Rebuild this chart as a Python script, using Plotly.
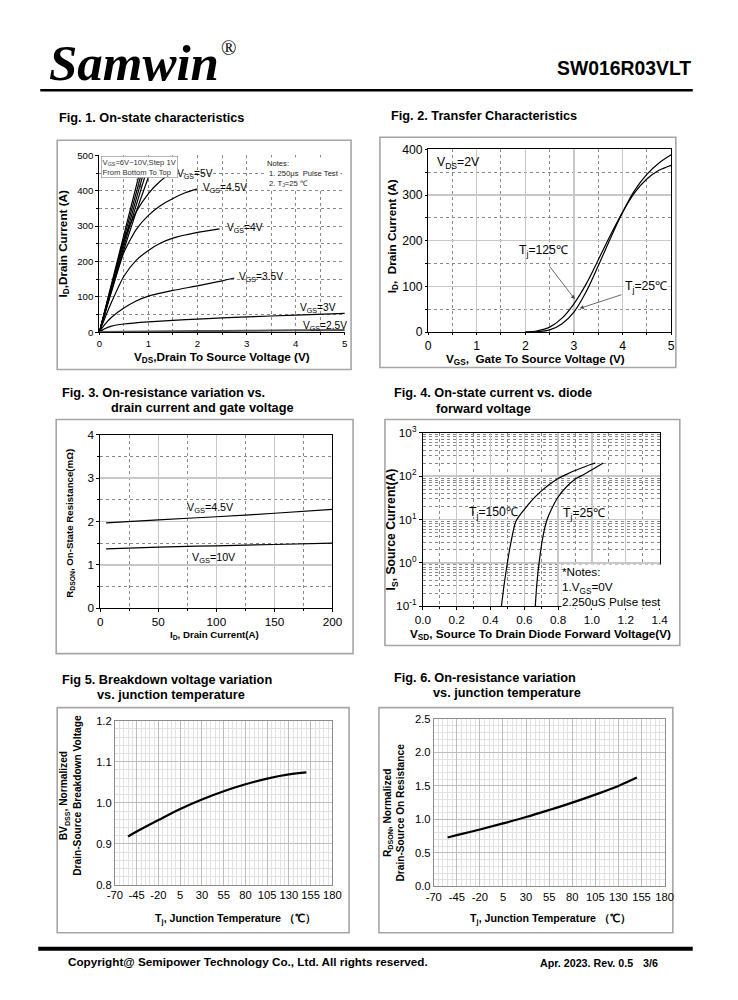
import plotly.graph_objects as go

# The photographed picture shows the 738x1000 page with an extra 8px white border
# scaled back into 738x1000; positions below are given in reference-picture pixels
# and mapped so they land where they are in the reference.
PAGE_W, PAGE_H = 738, 1000
OFF = 8
W, H = PAGE_W - 2 * OFF, PAGE_H - 2 * OFF
SX = (PAGE_W + 2 * OFF) / PAGE_W
SY = (PAGE_H + 2 * OFF) / PAGE_H
FS = (SX + SY) / 2
FONT = "Liberation Sans, Arial, sans-serif"
SERIF = "Liberation Serif, Times New Roman, serif"

# ---------------- data ----------------
# Fig 1: on-state characteristics, VDS [V] -> ID [A]
f1_labels = ["10V", "9V", "8V", "7V", "6V", "5V", "4.5V", "4V", "3.5V", "3V", "2.5V"]
f1_vds = [
    [0, 0.2, 0.4, 0.6, 0.82],
    [0, 0.2, 0.4, 0.6, 0.86],
    [0, 0.2, 0.4, 0.6, 0.90],
    [0, 0.2, 0.4, 0.6, 0.95],
    [0, 0.2, 0.4, 0.6, 0.8, 1.03],
    [0, 0.1, 0.25, 0.5, 0.75, 1.0, 1.25, 1.45],
    [0, 0.1, 0.25, 0.5, 0.75, 1.0, 1.25, 1.5, 1.75, 2.0],
    [0, 0.1, 0.25, 0.5, 0.75, 1.0, 1.25, 1.5, 2.0, 2.45],
    [0, 0.1, 0.25, 0.5, 0.75, 1.0, 1.5, 2.0, 2.5, 2.75],
    [0, 0.1, 0.25, 0.5, 1.0, 1.5, 2.0, 3.0, 4.0, 5.0],
    [0, 1.0, 2.0, 3.0, 4.0, 5.0],
]
f1_id = [
    [0, 110, 220, 330, 450],
    [0, 106, 212, 316, 450],
    [0, 102, 203, 302, 450],
    [0, 98, 195, 290, 450],
    [0, 95, 188, 276, 360, 450],
    [0, 50, 130, 260, 340, 392, 428, 450],
    [0, 45, 115, 225, 290, 330, 358, 378, 394, 405],
    [0, 35, 85, 158, 203, 231, 252, 266, 282, 292],
    [0, 20, 42, 68, 88, 102, 118, 131, 145, 153],
    [0, 9, 17, 23, 29, 33, 37, 43, 48, 53],
    [0, 2, 3, 4, 5, 6],
]

# Fig 2: transfer characteristics, VGS [V] -> ID [A]
f2_vgs = [2.0, 2.25, 2.5, 2.75, 3.0, 3.25, 3.5, 3.75, 4.0, 4.25, 4.5, 4.75, 5.0]
f2_id_125 = [0, 3, 11, 30, 62, 105, 158, 212, 262, 305, 335, 354, 365]
f2_id_25 = [0, 1, 5, 18, 44, 88, 145, 205, 262, 310, 345, 370, 388]

# Fig 3: RDS(on) [mOhm] vs ID [A]
f3_id = [5, 50, 100, 150, 200]
f3_r_45v = [1.97, 2.04, 2.11, 2.19, 2.28]
f3_r_10v = [1.37, 1.41, 1.44, 1.47, 1.50]

# Fig 4: body diode, VSD [V] -> IS [A]
f4_vsd_150 = [0.465, 0.48, 0.50, 0.52, 0.55, 0.60, 0.65, 0.70, 0.75, 0.80, 0.85, 0.90, 0.95, 1.0, 1.02]
f4_is_150 = [0.1, 0.3, 1.0, 2.8, 9, 17, 29, 45, 65, 88, 110, 135, 160, 190, 200]
f4_vsd_25 = [0.665, 0.675, 0.69, 0.71, 0.735, 0.76, 0.80, 0.85, 0.90, 0.95, 1.0, 1.067]
f4_is_25 = [0.1, 0.35, 1.2, 4, 10, 17, 33, 57, 85, 108, 140, 200]

# Fig 5: normalized BVDSS vs Tj
f5_tj = [-55, -45, -20, 5, 30, 55, 80, 105, 130, 150]
f5_bv = [0.918, 0.930, 0.958, 0.985, 1.008, 1.028, 1.045, 1.059, 1.069, 1.074]

# Fig 6: normalized RDS(on) vs Tj
f6_tj = [-55, -45, -20, 5, 30, 55, 80, 105, 130, 150]
f6_r = [0.73, 0.765, 0.85, 0.94, 1.035, 1.14, 1.25, 1.37, 1.5, 1.625]

# tick labels
f4_tickvals = [0.1, 1, 10, 100, 1000]
f4_ticktext = ["10<sup>-1</sup>", "10<sup>0</sup>", "10<sup>1</sup>", "10<sup>2</sup>", "10<sup>3</sup>"]
temp_ticks = [-70, -45, -20, 5, 30, 55, 80, 105, 130, 155, 180]
temp_ticktext = ["-70", "-45", "-20", "5", "30", "55", "80", "105", "130", "155", "180"]


def px(x):
    return (x * SX - 2 * OFF) / W


def py(y):
    return 1 - (y * SY - 2 * OFF) / H


def fs(s):
    return round(s * FS, 2)


fig = go.Figure()

# ---- traces ----
for i, lab in enumerate(f1_labels):
    col = "#555" if lab == "2.5V" else "black"
    wid = 2.0 if lab == "2.5V" else 1.2
    fig.add_trace(go.Scatter(x=f1_vds[i], y=f1_id[i], xaxis="x", yaxis="y", mode="lines",
                             line=dict(color=col, width=wid, shape="spline", smoothing=0.6),
                             name="VGS=" + lab, showlegend=False, hoverinfo="skip"))

for yy in (f2_id_125, f2_id_25):
    fig.add_trace(go.Scatter(x=f2_vgs, y=yy, xaxis="x2", yaxis="y2", mode="lines",
                             line=dict(color="black", width=1.2, shape="spline"), showlegend=False))

for yy in (f3_r_45v, f3_r_10v):
    fig.add_trace(go.Scatter(x=f3_id, y=yy, xaxis="x3", yaxis="y3", mode="lines",
                             line=dict(color="black", width=1.2, shape="spline"), showlegend=False))

fig.add_trace(go.Scatter(x=f4_vsd_150, y=f4_is_150, xaxis="x4", yaxis="y4", mode="lines",
                         line=dict(color="black", width=1.2, shape="spline", smoothing=0.7), showlegend=False))
fig.add_trace(go.Scatter(x=f4_vsd_25, y=f4_is_25, xaxis="x4", yaxis="y4", mode="lines",
                         line=dict(color="black", width=1.2, shape="spline", smoothing=0.7), showlegend=False))

fig.add_trace(go.Scatter(x=f5_tj, y=f5_bv, xaxis="x5", yaxis="y5", mode="lines",
                         line=dict(color="black", width=2.2, shape="spline"), showlegend=False))
fig.add_trace(go.Scatter(x=f6_tj, y=f6_r, xaxis="x6", yaxis="y6", mode="lines",
                         line=dict(color="black", width=2.2, shape="spline"), showlegend=False))


# ---- axes ----
def dotted_axis(domain, anchor, rng, dtick, minor_dtick, fsize, mirror=False, linecol="black",
                solid_major=False, ticklen=4, **kw):
    d = dict(domain=domain, anchor=anchor, range=rng, dtick=dtick, tick0=0,
             showline=True, linecolor=linecol, linewidth=1, mirror=mirror,
             ticks="outside", ticklen=ticklen, tickcolor="black",
             showgrid=True, gridcolor="#c8c8c8" if solid_major else "#8a8a8a",
             griddash="solid" if solid_major else "dot",
             gridwidth=1.4 if solid_major else 1,
             minor=dict(dtick=minor_dtick, showgrid=True, gridcolor="#8a8a8a", griddash="dot",
                        gridwidth=1, ticks="outside", ticklen=2, tickcolor="black"),
             tickfont=dict(family=FONT, size=fs(fsize), color="black"),
             zeroline=False, fixedrange=True)
    d.update(kw)
    return d


layout = dict(
    width=W, height=H, margin=dict(l=0, r=0, t=0, b=0), autosize=False,
    paper_bgcolor="white", plot_bgcolor="white", showlegend=False,
    font=dict(family=FONT, color="black"),
)

layout["xaxis"] = dotted_axis([px(99.3), px(345.7)], "y", [0, 5], 1, 0.5, 9.5, ticklen=2)
layout["yaxis"] = dotted_axis([py(331.7), py(155)], "x", [0, 500], 100, 50, 9.5, ticklen=3)

layout["xaxis2"] = dotted_axis([px(429.3), px(673.3)], "y2", [0, 5], 1, 0.5, 12, mirror=True,
                               solid_major=True, ticklen=2)
layout["yaxis2"] = dotted_axis([py(331.7), py(149)], "x2", [0, 400], 100, 50, 12, mirror=True,
                               solid_major=True, ticklen=2)

layout["xaxis3"] = dotted_axis([px(100.3), px(333.3)], "y3", [0, 200], 50, 25, 11.5, mirror=True,
                               solid_major=True, linecol="black", ticklen=3)
layout["yaxis3"] = dotted_axis([py(607.7), py(434.3)], "x3", [0, 4], 1, 0.5, 11.5, mirror=True,
                               solid_major=True, linecol="black", ticklen=3)

layout["xaxis4"] = dotted_axis([px(424), px(661.7)], "y4", [0, 1.4], 0.2, 0.1, 11.5, mirror=True,
                               solid_major=True, tickformat=".1f", ticklen=3)
layout["yaxis4"] = dict(domain=[py(605.7), py(432.3)], anchor="x4", type="log", range=[-1, 3],
                        tickvals=f4_tickvals, ticktext=f4_ticktext,
                        showline=True, linecolor="black", linewidth=1, mirror=True,
                        ticks="outside", ticklen=3, tickcolor="black",
                        showgrid=True, gridcolor="#c8c8c8", gridwidth=1.4,
                        minor=dict(tickvals=[k * 10 ** e for e in range(-1, 3) for k in range(2, 10)],
                                   showgrid=True, gridcolor="#8a8a8a", griddash="dot", gridwidth=1),
                        tickfont=dict(family=FONT, size=fs(11.5), color="black"),
                        zeroline=False, fixedrange=True)


def excel_axis(domain, anchor, rng, dtick, minor_dtick, tick0, tickvals=None, ticktext=None, fmt=None):
    d = dict(domain=domain, anchor=anchor, range=rng, dtick=dtick, tick0=tick0,
             showline=True, linecolor="#8c8c8c", linewidth=1, mirror=True,
             ticks="", showgrid=True, gridcolor="#bdbdbd", gridwidth=1,
             minor=dict(dtick=minor_dtick, tick0=tick0, showgrid=True, gridcolor="#e2e2e2", gridwidth=1),
             tickfont=dict(family=FONT, size=fs(11), color="black"),
             zeroline=False, fixedrange=True)
    if tickvals is not None:
        d["tickmode"] = "array"
        d["tickvals"] = tickvals
        d["ticktext"] = ticktext
    if fmt:
        d["tickformat"] = fmt
    return d


layout["xaxis5"] = excel_axis([px(115), px(333.3)], "y5", [-70, 180], 25, 5, -70, temp_ticks, temp_ticktext)
layout["yaxis5"] = excel_axis([py(884.3), py(720)], "x5", [0.8, 1.2], 0.1, 0.02, 0.8, fmt=".1f")
layout["xaxis6"] = excel_axis([px(435), px(666.7)], "y6", [-70, 180], 25, 5, -70, temp_ticks, temp_ticktext)
layout["yaxis6"] = excel_axis([py(885.7), py(718.3)], "x6", [0, 2.5], 0.5, 0.1, 0, fmt=".1f")

fig.update_layout(**layout)

# ---- shapes ----
shapes = []


def frame(x0, y0, x1, y1):
    shapes.append(dict(type="rect", xref="paper", yref="paper", x0=px(x0), x1=px(x1), y0=py(y1), y1=py(y0),
                       line=dict(color="#a6a6a6", width=1.6), layer="below"))


frame(57, 140, 352, 369)
frame(381, 137, 678, 367)
frame(56, 419, 354, 653)
frame(386, 419, 682, 645)
frame(57, 707, 350, 932)
frame(380, 707, 675, 932)

shapes.append(dict(type="line", xref="paper", yref="paper", x0=px(40), x1=px(695), y0=py(90), y1=py(90),
                   line=dict(color="black", width=2.5)))
shapes.append(dict(type="line", xref="paper", yref="paper", x0=px(38), x1=px(695), y0=py(948), y1=py(948),
                   line=dict(color="black", width=4)))
fig.update_layout(shapes=shapes)

# ---- annotations ----
ann = []


def ptext(text, x, y, size, xanchor="left", yanchor="middle", family=FONT, angle=0, align="left", **kw):
    a = dict(text=text, x=px(x), y=py(y), xref="paper", yref="paper", showarrow=False,
             xanchor=xanchor, yanchor=yanchor, textangle=angle, align=align,
             font=dict(family=family, size=fs(size), color="black"))
    a.update(kw)
    ann.append(a)


def dtext(text, x, y, xr, yr, size, xanchor="left", yanchor="middle", **kw):
    a = dict(text=text, x=x, y=y, xref=xr, yref=yr, showarrow=False,
             xanchor=xanchor, yanchor=yanchor, font=dict(family=FONT, size=fs(size), color="black"))
    a.update(kw)
    ann.append(a)


# header/footer
ptext("<b><i>Samwin</i></b>", 47, 63, 50, family=SERIF)
ptext("®", 219, 48, 20, family=SERIF)
ptext("<b>SW016R03VLT</b>", 695, 68, 19, xanchor="right")
ptext("<b>Copyright@ Semipower Technology Co., Ltd. All rights reserved.</b>", 66, 961, 11.5)
ptext("<b>Apr. 2023. Rev. 0.5</b>", 540, 962, 10.5)
ptext("<b>3/6</b>", 643, 962, 10.5)

# figure titles
ptext("<b>Fig. 1. On-state characteristics</b>", 57, 117, 12.5)
ptext("<b>Fig. 2. Transfer Characteristics</b>", 390, 115, 12.5)
ptext("<b>Fig. 3. On-resistance variation vs.</b>", 60, 392, 12.5)
ptext("<b>drain current and gate voltage</b>", 109, 407, 12.5)
ptext("<b>Fig. 4. On-state current vs. diode</b>", 393, 392, 12.5)
ptext("<b>forward voltage</b>", 435, 408, 12.5)
ptext("<b>Fig 5. Breakdown voltage variation</b>", 60, 679, 12.5)
ptext("<b>vs. junction temperature</b>", 95, 694, 12.5)
ptext("<b>Fig. 6. On-resistance variation</b>", 393, 677, 12.5)
ptext("<b>vs. junction temperature</b>", 432, 692, 12.5)

# axis titles
ptext("<b>V<sub>DS</sub>,Drain To Source Voltage (V)</b>", 222, 357, 11.5, xanchor="center")
ptext("<b>I<sub>D</sub>,Drain Current (A)</b>", 63, 243, 11.5, xanchor="center", angle=-90)
ptext("<b>V<sub>GS</sub>,  Gate To Source Voltage (V)</b>", 537, 359, 11.5, xanchor="center")
ptext("<b>I<sub>D</sub>,  Drain Current (A)</b>", 393, 236, 11.5, xanchor="center", angle=-90)
ptext("<b>I<sub>D</sub>, Drain Current(A)</b>", 215, 634, 9.5, xanchor="center")
ptext("<b>R<sub>DSON</sub>, On-State Resistance(mΩ)</b>", 69, 523, 9.5, xanchor="center", angle=-90)
ptext("<b>V<sub>SD</sub>, Source To Drain Diode Forward Voltage(V)</b>", 542, 634, 11.5, xanchor="center")
ptext("<b>I<sub>S</sub>, Source Current(A)</b>", 393, 529, 12, xanchor="center", angle=-90)
ptext("<b>T<sub>j</sub>, Junction Temperature （℃）</b>", 236, 918, 10.5, xanchor="center")
ptext("<b>BV<sub>DSS</sub>, Normalized<br>Drain-Source Breakdown Voltage</b>", 70, 795, 10,
      xanchor="center", angle=-90, align="center")
ptext("<b>T<sub>j</sub>, Junction Temperature （℃）</b>", 552, 918, 10.5, xanchor="center")
ptext("<b>R<sub>DSON</sub>, Normalized<br>Drain-Source On Resistance</b>", 395, 812, 10,
      xanchor="center", angle=-90, align="center")

# Fig 1 labels
f1_lbl_pos = {"5V": (1.55, 446), "4.5V": (2.08, 406), "4V": (2.55, 292), "3.5V": (2.8, 155),
              "3V": (4.05, 66), "2.5V": (4.1, 17)}
for lab, (lx, ly) in f1_lbl_pos.items():
    dtext("V<sub>GS</sub>=" + lab, lx, ly, "x", "y", 10)
ann.append(dict(text="V<sub>GS</sub>=6V~10V,Step 1V<br>From Bottom To Top", x=px(100.5), y=py(155.5),
                xref="paper", yref="paper", showarrow=False, xanchor="left", yanchor="top", align="left",
                font=dict(family=FONT, size=fs(7.5), color="#333"), bgcolor="white",
                bordercolor="#888", borderwidth=0.6, borderpad=1))
ann.append(dict(text=" ", x=0.84, y=408, xref="x", yref="y", ax=0.7, ay=452, axref="x", ayref="y",
                showarrow=True, arrowhead=4, arrowsize=1, arrowwidth=0.8, arrowcolor="#333"))
ann.append(dict(text="Notes:<br> 1. 250μs  Pulse Test<br> 2. T<sub>J</sub>=25 ℃", x=px(266), y=py(157),
                xref="paper", yref="paper", showarrow=False, xanchor="left", yanchor="top", align="left",
                font=dict(family=FONT, size=fs(7.5), color="#222"), bgcolor="white"))

# Fig 2 labels
dtext("V<sub>DS</sub>=2V", 0.15, 370, "x2", "y2", 12)
dtext("T<sub>j</sub>=125℃", 1.82, 178, "x2", "y2", 12)
dtext("T<sub>j</sub>=25℃", 4.04, 98, "x2", "y2", 12, bgcolor="white", borderpad=0)
ann.append(dict(text=" ", x=3.02, y=72, xref="x2", yref="y2", ax=2.44, ay=152, axref="x2", ayref="y2",
                showarrow=True, arrowhead=2, arrowsize=1, arrowwidth=0.8, arrowcolor="#444"))
ann.append(dict(text=" ", x=3.12, y=52, xref="x2", yref="y2", ax=4.04, ay=84, axref="x2", ayref="y2",
                showarrow=True, arrowhead=2, arrowsize=1, arrowwidth=0.8, arrowcolor="#444"))

# Fig 3 labels
dtext("V<sub>GS</sub>=4.5V", 73, 2.3, "x3", "y3", 10.5)
dtext("V<sub>GS</sub>=10V", 77, 1.15, "x3", "y3", 10.5)

# Fig 4 labels (log axis -> log10 y)
dtext("T<sub>j</sub>=150℃", 0.26, 1.15, "x4", "y4", 12)
dtext("T<sub>j</sub>=25℃", 0.82, 1.12, "x4", "y4", 12)
ann.append(dict(text="*Notes:<br>1.V<sub>GS</sub>=0V<br>2.250uS Pulse test", x=0.815, y=-0.02,
                xref="x4", yref="y4", showarrow=False, xanchor="left", yanchor="top", align="left",
                font=dict(family=FONT, size=fs(11.5), color="black"), bgcolor="white", borderpad=0))

fig.update_layout(annotations=ann)

fig.write_html("out.html", config={"displayModeBar": False, "staticPlot": True})
